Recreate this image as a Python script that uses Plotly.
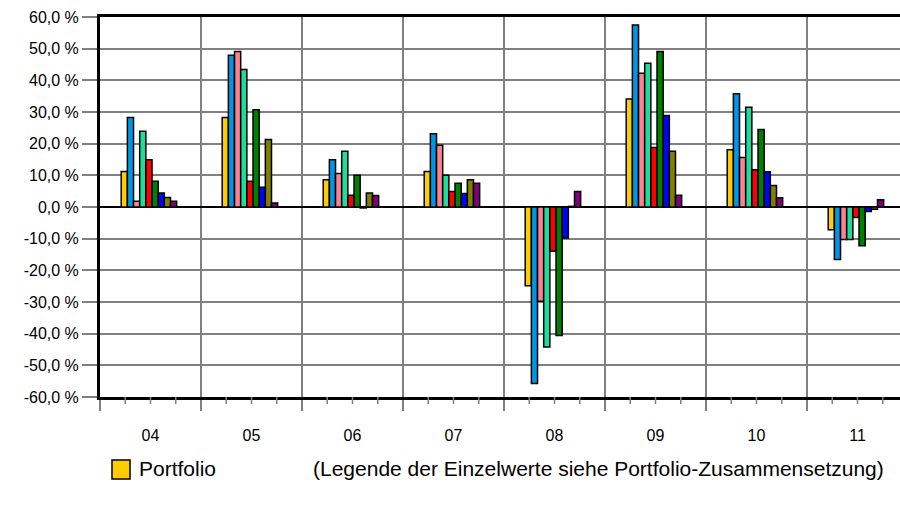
import plotly.graph_objects as go

# Years (category labels on the x axis)
years = ["04", "05", "06", "07", "08", "09", "10", "11"]

# Annual returns in percent, one list per series
portfolio = [11.2, 28.3, 8.6, 11.2, -24.9, 34.1, 18.1, -7.2]
wert_1 = [28.3, 47.9, 14.9, 23.1, -55.7, 57.5, 35.8, -16.6]
wert_2 = [1.8, 49.1, 10.6, 19.5, -29.8, 42.2, 15.6, -10.3]
wert_3 = [23.9, 43.4, 17.6, 10.0, -44.2, 45.4, 31.5, -10.3]
wert_4 = [14.9, 8.1, 3.7, 4.9, -14.0, 18.8, 11.8, -3.3]
wert_5 = [8.1, 30.7, 10.0, 7.5, -40.6, 49.1, 24.5, -12.2]
wert_6 = [4.4, 6.2, -0.3, 4.3, -9.8, 28.9, 11.1, -1.4]
wert_7 = [3.0, 21.3, 4.4, 8.6, 0.2, 17.6, 6.8, -0.7]
wert_8 = [1.8, 1.3, 3.6, 7.5, 4.9, 3.7, 2.9, 2.3]

series_names = ["Portfolio", "Einzelwert 1", "Einzelwert 2", "Einzelwert 3", "Einzelwert 4",
                "Einzelwert 5", "Einzelwert 6", "Einzelwert 7", "Einzelwert 8"]
series_values = [portfolio, wert_1, wert_2, wert_3, wert_4, wert_5, wert_6, wert_7, wert_8]
series_colors = ["#FFCC00", "#0096E6", "#FF8090", "#1EDC9A", "#FF0000",
                 "#008000", "#0000FF", "#808000", "#800080"]

# y axis tick labels (German number format)
y_tickvals = [60, 50, 40, 30, 20, 10, 0, -10, -20, -30, -40, -50, -60]
y_ticktext = ["60,0 %", "50,0 %", "40,0 %", "30,0 %", "20,0 %", "10,0 %", "0,0 %",
              "-10,0 %", "-20,0 %", "-30,0 %", "-40,0 %", "-50,0 %", "-60,0 %"]

FONT = "Liberation Sans, Arial, sans-serif"
BAR_W = 0.061
START = -0.29

fig = go.Figure()
for i, (name, vals, col) in enumerate(zip(series_names, series_values, series_colors)):
    fig.add_trace(go.Bar(
        x=years, y=vals, name=name,
        marker=dict(color=col, line=dict(color="black", width=1.5)),
        width=BAR_W, offset=START + i * BAR_W,
        showlegend=False,
    ))

# minor tick marks below the category axis
shapes = []
for k in range(len(years)):
    for d in (-0.25, 0.0, 0.25):
        shapes.append(dict(type="line", xref="x", yref="paper",
                           x0=k + d, x1=k + d, y0=0, y1=-7 / 380,
                           line=dict(color="#808080", width=1.5)))

# legend swatch for the portfolio series
shapes.append(dict(type="rect", xref="paper", yref="paper",
                   x0=12 / 800, x1=30 / 800, y0=-82 / 380, y1=-63 / 380,
                   fillcolor="#FFCC00", line=dict(color="black", width=1.5)))

annotations = [
    dict(text="Portfolio", xref="paper", yref="paper", x=37 / 800, y=-72 / 380,
         xanchor="left", yanchor="middle", showarrow=False,
         font=dict(family=FONT, size=21, color="black")),
    dict(text="(Legende der Einzelwerte siehe Portfolio-Zusammensetzung)",
         xref="paper", yref="paper", x=786 / 800, y=-72 / 380,
         xanchor="right", yanchor="middle", showarrow=False,
         font=dict(family=FONT, size=21, color="black")),
]

fig.update_layout(
    width=900, height=509,
    margin=dict(l=100, r=0, t=17, b=112),
    paper_bgcolor="white", plot_bgcolor="white",
    barmode="overlay",
    font=dict(family=FONT, size=16, color="black"),
    shapes=shapes, annotations=annotations,
    showlegend=False,
)
fig.update_xaxes(
    type="category", range=[-0.5, -0.5 + 800 / 101],
    tickson="boundaries", ticks="outside", ticklen=11, tickwidth=2, tickcolor="#808080",
    showgrid=True, gridcolor="#808080", gridwidth=2,
    showline=True, linecolor="black", linewidth=3, mirror=True,
    ticklabelstandoff=22,
    tickfont=dict(family=FONT, size=16, color="black"),
)
fig.update_yaxes(
    range=[-60, 60], tickvals=y_tickvals, ticktext=y_ticktext,
    ticks="outside", ticklen=15, tickwidth=2, tickcolor="#808080",
    showgrid=True, gridcolor="#808080", gridwidth=2,
    zeroline=True, zerolinecolor="black", zerolinewidth=2,
    showline=True, linecolor="black", linewidth=3,
    tickfont=dict(family=FONT, size=16, color="black"),
)

fig.write_html("out.html")
